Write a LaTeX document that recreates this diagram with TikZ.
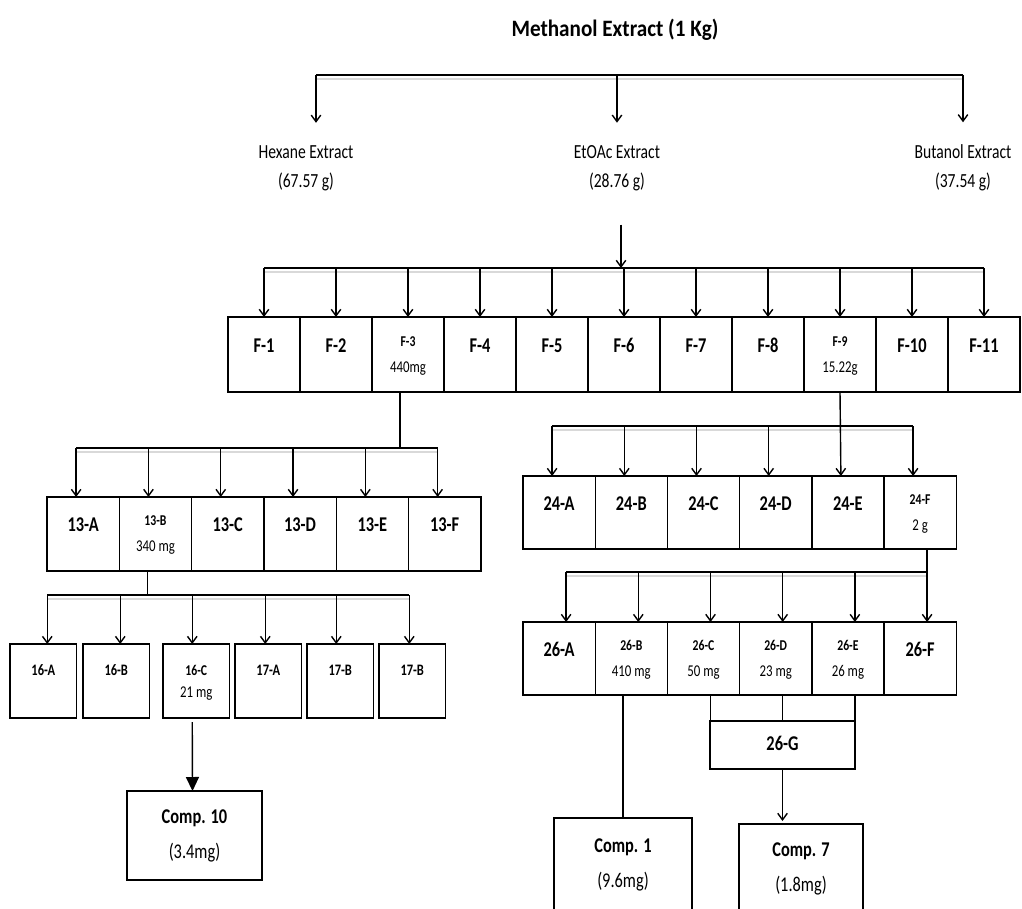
\documentclass[tikz,border=0pt]{standalone}
\usepackage{fontspec}
\setmainfont[FakeStretch=0.78]{Carlito}
\newfontfamily\headfont[FakeStretch=0.9]{Carlito}
\usetikzlibrary{positioning,arrows.meta}

% small bold name over a regular mass, for the fractions that were taken further
\newcommand{\massbox}[2]{\begin{tabular}[t]{@{}c@{}}{\fontsize{15}{17}\selectfont #1}\\[4pt]{\fontsize{16.5}{18}\selectfont\mdseries #2}\end{tabular}}

\begin{document}
\begin{tikzpicture}[x=1pt,y=-1pt,line width=1.4pt,>={Straight Barb[length=6.5pt,width=9.5pt]}]
      \tikzstyle{frac}=[draw,rectangle,inner sep=0pt,outer sep=0pt,minimum width=72pt,minimum height=75pt,text height=14pt,text depth=19pt,font=\fontsize{21}{22}\selectfont\bfseries]
      \tikzstyle{fracm}=[frac,text height=8pt,text depth=25pt]
      \tikzstyle{sub}=[frac,minimum width=66.5pt,minimum height=74pt,text height=10pt,text depth=22pt,font=\fontsize{16}{18}\selectfont\bfseries]
      \tikzstyle{comp}=[draw,rectangle,inner sep=0pt,outer sep=0pt,align=center,font=\fontsize{21}{35}\selectfont]
      \tikzstyle{ext}=[inner sep=0pt,font=\fontsize{20}{22}\selectfont]
      \tikzstyle{shade}=[draw=gray!30,line width=1.6pt]
      \tikzstyle{bigarr}=[-{Triangle[length=14pt,width=13pt]}]
      \clip (0,0) rectangle (1022,909);

      % solvent partition of the crude extract
      \node[inner sep=0pt,font=\headfont\fontsize{23.5}{28}\selectfont\bfseries] (meoh) at (615,30) {Methanol Extract (1 Kg)};
      \node[ext] (hex) at (306,152) {Hexane Extract};
      \node[ext] (hexw) at (306,182) {(67.57 g)};
      \node[ext] (eta) at (617,152) {EtOAc Extract};
      \node[ext] (etaw) at (617,182) {(28.76 g)};
      \node[ext] (but) at (963,152) {Butanol Extract};
      \node[ext] (butw) at (963,182) {(37.54 g)};
      \coordinate (busT) at (618,75);
      \draw[shade] ([xshift=10pt,yshift=-4pt]hex.north |- busT) -- ([yshift=-4pt]but.north |- busT);
      \draw ([xshift=10pt]hex.north |- busT) -- (but.north |- busT);
      \draw[->] ([xshift=10pt]hex.north |- busT) -- ([xshift=10pt,yshift=22pt]hex.north);
      \draw[->] (eta.north |- busT) -- ([yshift=22pt]eta.north);
      \draw[->] (but.north |- busT) -- ([yshift=22pt]but.north);

      % EtOAc column fractions
      \node[frac,anchor=north west] (f1) at (228,317) {F-1};
      \node[frac,right=0pt of f1] (f2) {F-2};
      \node[fracm,right=0pt of f2] (f3) {\massbox{F-3}{440mg}};
      \node[frac,right=0pt of f3] (f4) {F-4};
      \node[frac,right=0pt of f4] (f5) {F-5};
      \node[frac,right=0pt of f5] (f6) {F-6};
      \node[frac,right=0pt of f6] (f7) {F-7};
      \node[frac,right=0pt of f7] (f8) {F-8};
      \node[fracm,right=0pt of f8] (f9) {\massbox{F-9}{15.22g}};
      \node[frac,right=0pt of f9] (f10) {F-10};
      \node[frac,right=0pt of f10] (f11) {F-11};
      \coordinate (busF) at (621,268);
      \draw[->] ([xshift=4pt,yshift=-33pt]etaw.south) -- ([xshift=4pt]etaw.south |- busF);
      \draw[shade] ([yshift=-4pt]f1.north |- busF) -- ([yshift=-4pt]f11.north |- busF);
      \draw (f1.north |- busF) -- (f11.north |- busF);
      \foreach \n in {f1,f2,f3,f4,f5,f6,f7,f8,f9,f10,f11}
        \draw[->] (\n.north |- busF) -- (\n.north);

      % F-3 sub-fractions
      \node[frac,anchor=north west,minimum width=72.3pt,minimum height=74pt] (a13) at (47,497) {13-A};
      \node[fracm,right=0pt of a13,minimum width=72.3pt,minimum height=74pt] (b13) {\massbox{13-B}{340 mg}};
      \node[frac,right=0pt of b13,minimum width=72.3pt,minimum height=74pt] (c13) {13-C};
      \node[frac,right=0pt of c13,minimum width=72.3pt,minimum height=74pt] (d13) {13-D};
      \node[frac,right=0pt of d13,minimum width=72.3pt,minimum height=74pt] (e13) {13-E};
      \node[frac,right=0pt of e13,minimum width=72.3pt,minimum height=74pt] (g13) {13-F};
      \coordinate (bus13) at (400,448);
      \draw ([xshift=-8pt]f3.south) -- ([xshift=-8pt]f3.south |- bus13);
      \draw[shade] ([xshift=-7pt,yshift=-4pt]a13.north |- bus13) -- ([xshift=-7pt,yshift=-4pt]g13.north |- bus13);
      \draw ([xshift=-7pt]a13.north |- bus13) -- ([xshift=-7pt]g13.north |- bus13);
      \foreach \n in {a13,b13,c13,d13,e13,g13}
        \draw[->] ([xshift=-7pt]\n.north |- bus13) -- ([xshift=-7pt]\n.north);

      % 13-B sub-fractions
      \node[sub,anchor=north west] (a16) at (10,644) {16-A};
      \node[sub,anchor=north west] (b16) at (83,644) {16-B};
      \node[sub,anchor=north west] (c16) at (163,644) {\massbox{16-C}{21 mg}};
      \node[sub,anchor=north west] (a17) at (235,644) {17-A};
      \node[sub,anchor=north west] (b17) at (307,644) {17-B};
      \node[sub,anchor=north west] (c17) at (379,644) {17-B};
      \coordinate (bus16) at (148,595);
      \draw ([xshift=-8pt]b13.south) -- ([xshift=-8pt]b13.south |- bus16);
      \draw[shade] ([xshift=4pt,yshift=-4pt]a16.north |- bus16) -- ([xshift=-3pt,yshift=-4pt]c17.north |- bus16);
      \draw ([xshift=4pt]a16.north |- bus16) -- ([xshift=-3pt]c17.north |- bus16);
      \foreach \n/\s in {a16/4,b16/4,c16/-4,a17/-3,b17/-4,c17/-3}
        \draw[->] ([xshift=\s pt]\n.north |- bus16) -- ([xshift=\s pt]\n.north);

      \node[comp,anchor=north west,minimum width=135pt,minimum height=89pt] (c10) at (127,791) {\textbf{Comp. 10}\\(3.4mg)};
      \draw[bigarr] ([xshift=-4pt,yshift=-4pt]c16.south) -- ([xshift=-2pt]c10.north);

      % F-9 sub-fractions
      \node[frac,anchor=north west,minimum width=72.2pt,minimum height=73pt] (a24) at (523,476) {24-A};
      \node[frac,right=0pt of a24,minimum width=72.2pt,minimum height=73pt] (b24) {24-B};
      \node[frac,right=0pt of b24,minimum width=72.2pt,minimum height=73pt] (c24) {24-C};
      \node[frac,right=0pt of c24,minimum width=72.2pt,minimum height=73pt] (d24) {24-D};
      \node[frac,right=0pt of d24,minimum width=72.2pt,minimum height=73pt] (e24) {24-E};
      \node[fracm,right=0pt of e24,minimum width=72.2pt,minimum height=73pt] (g24) {\massbox{24-F}{2 g}};
      \coordinate (bus24) at (840,426);
      \draw[shade] ([xshift=-7pt,yshift=-4pt]a24.north |- bus24) -- ([xshift=-7pt,yshift=-4pt]g24.north |- bus24);
      \draw ([xshift=-7pt]a24.north |- bus24) -- ([xshift=-7pt]g24.north |- bus24);
      \draw[->] (f9.south) -- ([xshift=-7pt]e24.north);
      \foreach \n in {a24,b24,c24,d24,g24}
        \draw[->] ([xshift=-7pt]\n.north |- bus24) -- ([xshift=-7pt]\n.north);

      % 24-F sub-fractions
      \node[frac,anchor=north west,minimum width=72.2pt,minimum height=73pt] (a26) at (523,622) {26-A};
      \node[fracm,right=0pt of a26,minimum width=72.2pt,minimum height=73pt] (b26) {\massbox{26-B}{410 mg}};
      \node[fracm,right=0pt of b26,minimum width=72.2pt,minimum height=73pt] (c26) {\massbox{26-C}{50 mg}};
      \node[fracm,right=0pt of c26,minimum width=72.2pt,minimum height=73pt] (d26) {\massbox{26-D}{23 mg}};
      \node[fracm,right=0pt of d26,minimum width=72.2pt,minimum height=73pt] (e26) {\massbox{26-E}{26 mg}};
      \node[frac,right=0pt of e26,minimum width=72.2pt,minimum height=73pt] (g26) {26-F};
      \coordinate (bus26) at (927,572);
      \draw[shade] ([xshift=7pt,yshift=-4pt]a26.north |- bus26) -- ([xshift=7pt,yshift=-4pt]g26.north |- bus26);
      \draw ([xshift=7pt]a26.north |- bus26) -- ([xshift=7pt]g26.north |- bus26);
      \draw[->] ([xshift=7pt]g24.south) -- ([xshift=7pt]g26.north);
      \foreach \n in {a26,b26,c26,d26,e26}
        \draw[->] ([xshift=7pt]\n.north |- bus26) -- ([xshift=7pt]\n.north);

      % pooled 26-C to 26-E and the isolated compounds
      \node[frac,anchor=north west,minimum width=145pt,minimum height=48pt,text height=14pt,text depth=4pt] (m26) at (710,721) {26-G};
      \foreach \n in {c26,d26,e26}
        \draw ([xshift=7pt]\n.south) -- ([xshift=7pt]\n.south |- m26.north);
      \node[comp,anchor=north west,minimum width=138pt,minimum height=93pt] (c1) at (554,818) {\textbf{Comp. 1}\\(9.6mg)};
      \node[comp,anchor=north west,minimum width=124pt,minimum height=90pt] (c7) at (739,824) {\textbf{Comp. 7}\\(1.8mg)};
      \draw (c1.north) -- (c1.north |- b26.south);
      \draw[->] (m26.south) -- ([yshift=3pt]m26.south |- c7.north);
\end{tikzpicture}
\end{document}
